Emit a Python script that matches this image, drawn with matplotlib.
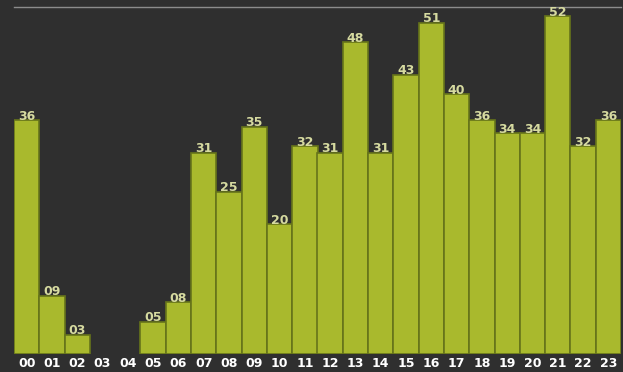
import matplotlib
matplotlib.use("Agg")
import matplotlib.pyplot as plt

hours = ["00", "01", "02", "03", "04", "05", "06", "07", "08", "09", "10", "11",
         "12", "13", "14", "15", "16", "17", "18", "19", "20", "21", "22", "23"]
counts = [36, 9, 3, 0, 0, 5, 8, 31, 25, 35, 20, 32,
          31, 48, 31, 43, 51, 40, 36, 34, 34, 52, 32, 36]

bg = "#2f2f2f"
fig = plt.figure(figsize=(6.23, 3.72), dpi=100, facecolor=bg)
ax = fig.add_axes([14 / 623, 18 / 372, 607 / 623, 347 / 372], facecolor=bg)

x = range(len(hours))
# no outline on empty hours so nothing shows there
lw = [1.2 if c > 0 else 0 for c in counts]
ax.bar(x, counts, width=1.0, color="#a9b92d", edgecolor="#66741a", linewidth=lw)

# value labels on top of each bar, skip empty hours
for i, c in enumerate(counts):
    if c > 0:
        ax.text(i, c + 0.05, "%02d" % c, ha="center", va="baseline",
                fontsize=9, fontweight="semibold", color="#d6daa0")

ax.set_xlim(-0.5, len(hours) - 0.5)
ax.set_ylim(0, 53.4)
ax.set_xticks(list(x))
ax.set_xticklabels(hours, fontsize=9, fontweight="bold", color="white")
ax.tick_params(axis="x", length=0, pad=2.5)
ax.set_yticks([])

for s in ["left", "right", "bottom"]:
    ax.spines[s].set_visible(False)
ax.spines["top"].set_color("#8c8c8c")
ax.spines["top"].set_linewidth(1.0)

fig.savefig("out.png", dpi=100, facecolor=bg)
